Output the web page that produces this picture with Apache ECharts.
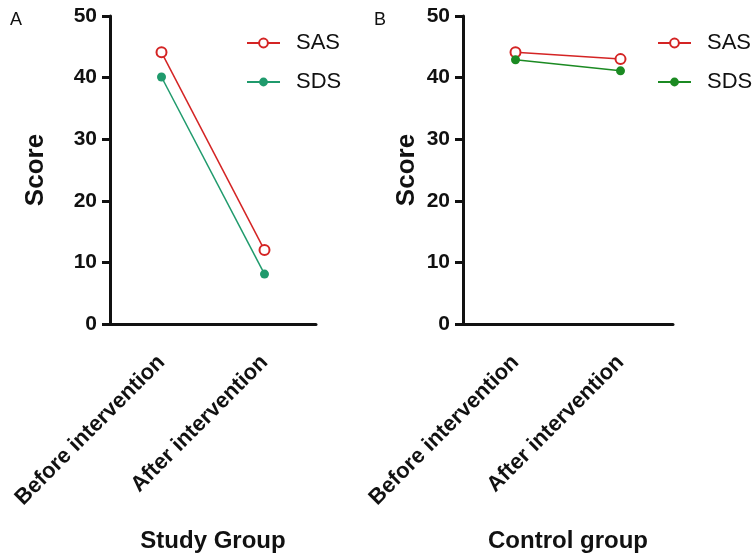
<!DOCTYPE html>
<html>
<head>
<meta charset="utf-8">
<script src="https://cdn.jsdelivr.net/npm/echarts@6/dist/echarts.min.js"></script>
<style>
  html, body { margin: 0; padding: 0; background: #fff; }
  #chart { width: 756px; height: 558px; }
</style>
</head>
<body>
<div id="chart"></div>
<script>
const categories = ["Before intervention", "After intervention"];
const yTicks = [0, 10, 20, 30, 40, 50];

// panel A: study group
const studySAS = [44.1, 12.0];
const studySDS = [40.1, 8.1];
// panel B: control group
const controlSAS = [44.1, 43.0];
const controlSDS = [42.9, 41.1];

const FONT = "'Liberation Sans', Arial, sans-serif";
const RED = "#d42424";
const TEAL = "#1f9a6c";
const GREEN = "#1b8a22";

const chart = echarts.init(document.getElementById("chart"));

function xAxisFor(idx, name) {
  return {
    type: "category",
    gridIndex: idx,
    data: categories,
    name: name,
    nameLocation: "middle",
    nameGap: 205,
    nameTextStyle: { fontFamily: FONT, fontWeight: "bold", fontSize: 24, color: "#111" },
    axisLine: { lineStyle: { color: "#111", width: 3 } },
    axisTick: { alignWithLabel: true, length: 8, lineStyle: { color: "#111", width: 3 } },
    axisLabel: {
      rotate: 45,
      margin: 35,
      fontFamily: FONT,
      fontWeight: "bold",
      fontSize: 22,
      color: "#111",
    },
  };
}

function yAxisFor(idx, gap) {
  return {
    type: "value",
    gridIndex: idx,
    min: yTicks[0],
    max: yTicks[yTicks.length - 1],
    interval: 10,
    name: "Score",
    nameLocation: "middle",
    nameGap: gap,
    nameTextStyle: { fontFamily: FONT, fontWeight: "bold", fontSize: 26, color: "#111" },
    splitLine: { show: false },
    axisLine: { show: true, lineStyle: { color: "#111", width: 3 } },
    axisTick: { show: true, length: 8, lineStyle: { color: "#111", width: 3 } },
    axisLabel: {
      margin: 13,
      fontFamily: FONT,
      fontWeight: "bold",
      fontSize: 21,
      color: "#111",
    },
  };
}

function sasSeries(name, idx, data) {
  return {
    name: name,
    type: "line",
    xAxisIndex: idx,
    yAxisIndex: idx,
    data: data,
    symbol: "emptyCircle",
    symbolSize: 10,
    lineStyle: { color: RED, width: 1.5 },
    itemStyle: { color: RED, borderColor: RED, borderWidth: 2.5 },
  };
}

function sdsSeries(name, idx, data, color) {
  return {
    name: name,
    type: "line",
    xAxisIndex: idx,
    yAxisIndex: idx,
    data: data,
    symbol: "circle",
    symbolSize: 9,
    lineStyle: { color: color, width: 1.5 },
    itemStyle: { color: color },
  };
}

function legendFor(names, left) {
  return {
    data: names,
    orient: "vertical",
    left: left,
    top: 27,
    itemWidth: 33,
    itemHeight: 11,
    itemGap: 17,
    formatter: (n) => n.trim(),
    textStyle: { fontFamily: FONT, fontSize: 22, color: "#111", padding: [0, 0, 0, 11] },
  };
}

chart.setOption({
  animation: false,
  backgroundColor: "#fff",
  title: [
    { text: "A", left: 5, top: 6, textStyle: { fontFamily: FONT, fontSize: 18, fontWeight: "normal", color: "#111" } },
    { text: "B", left: 369, top: 6, textStyle: { fontFamily: FONT, fontSize: 18, fontWeight: "normal", color: "#111" } },
  ],
  grid: [
    { left: 110, right: 440, top: 16, bottom: 234, outerBoundsMode: "none", containLabel: false },
    { left: 463, right: 83, top: 16, bottom: 234, outerBoundsMode: "none", containLabel: false },
  ],
  xAxis: [xAxisFor(0, "Study Group"), xAxisFor(1, "Control group")],
  yAxis: [yAxisFor(0, 61), yAxisFor(1, 43)],
  legend: [legendFor(["SAS", "SDS"], 241), legendFor(["SAS ", "SDS "], 652)],
  series: [
    sasSeries("SAS", 0, studySAS),
    sdsSeries("SDS", 0, studySDS, TEAL),
    sasSeries("SAS ", 1, controlSAS),
    sdsSeries("SDS ", 1, controlSDS, GREEN),
  ],
});
</script>
</body>
</html>
